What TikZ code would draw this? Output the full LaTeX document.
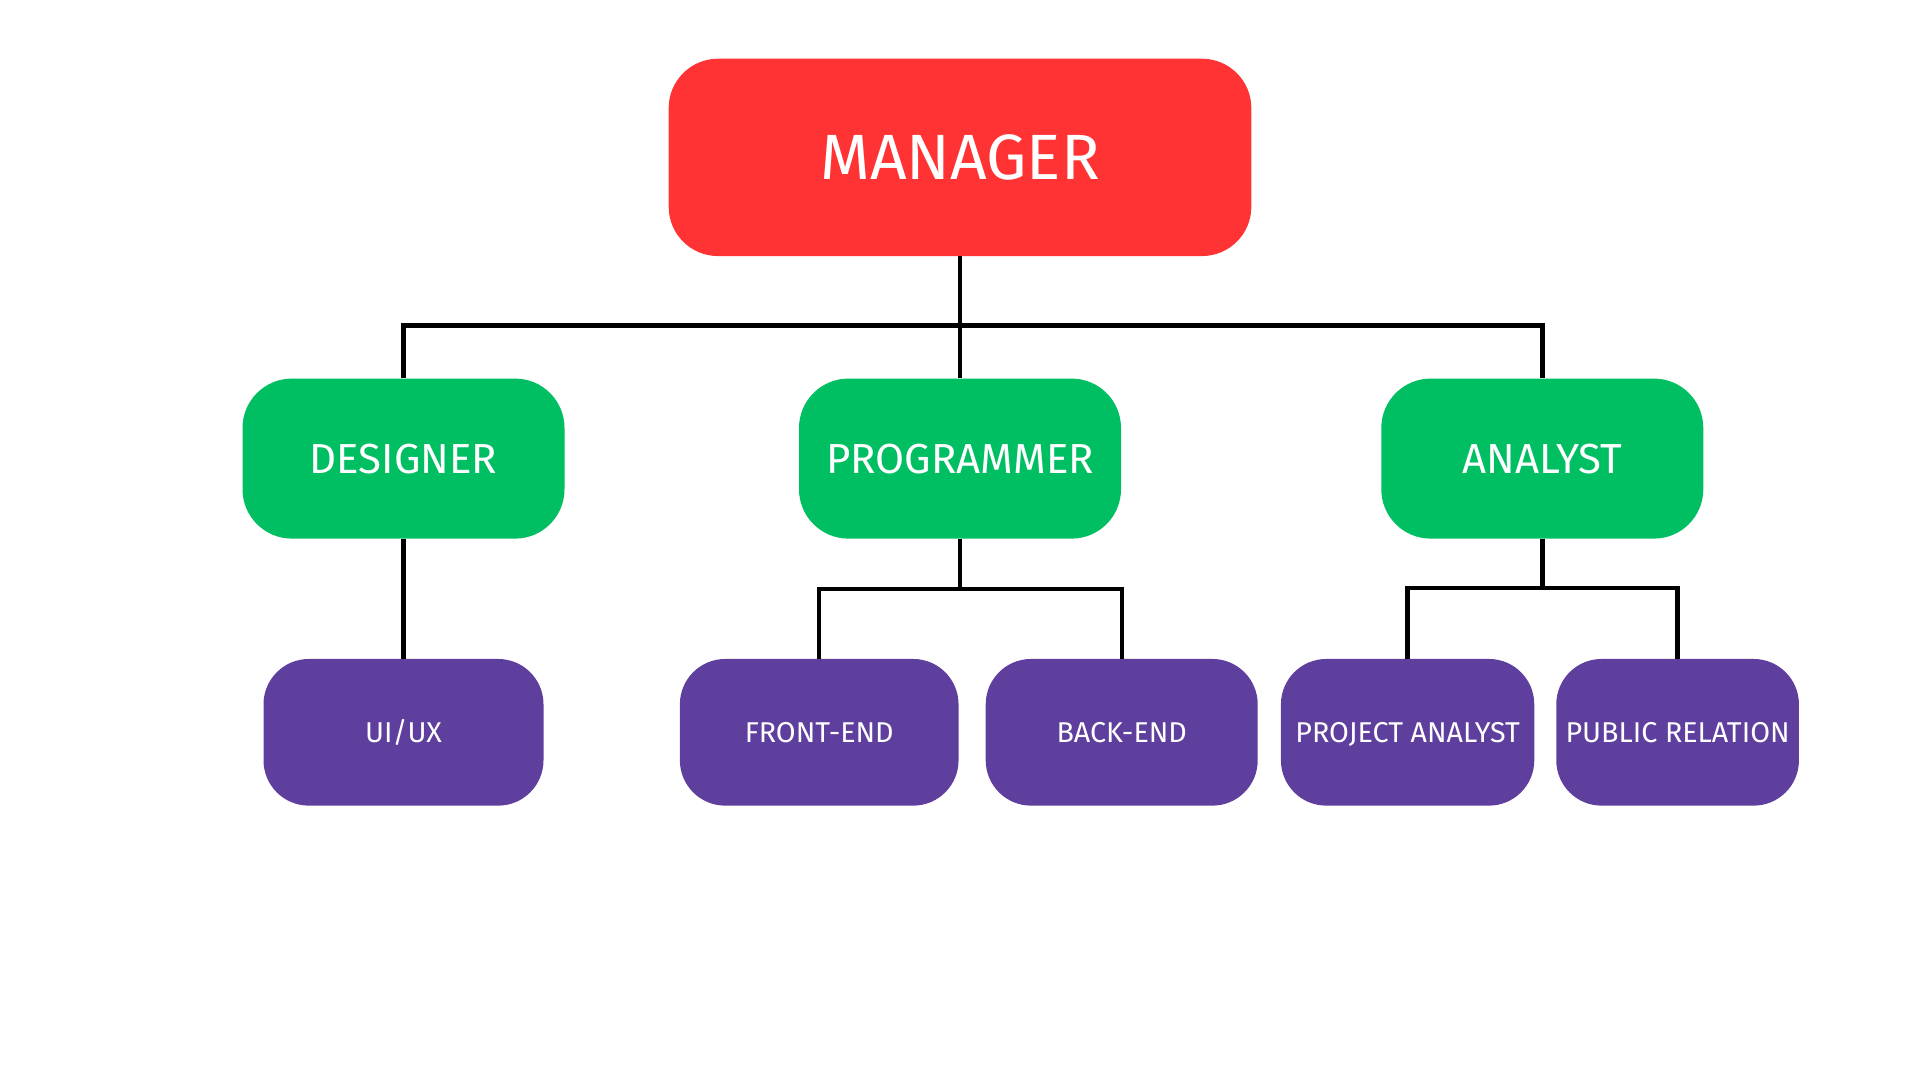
\documentclass[tikz,border=0pt]{standalone}
\usepackage{fontspec}
\setmainfont{Fira Sans}
\definecolor{mgr}{HTML}{FF3333}
\definecolor{grn}{HTML}{00BF63}
\definecolor{prp}{HTML}{5F3F9E}
\begin{document}
\begin{tikzpicture}[x=0.75pt,y=-0.75pt,
  box/.style={rectangle,rounded corners=37pt,inner sep=0pt,text=white,anchor=center},
  top/.style={box,fill=mgr,minimum width=437pt,minimum height=148pt,font=\fontsize{48}{58}\selectfont},
  mid/.style={box,fill=grn,minimum width=241.5pt,minimum height=120pt,font=\fontsize{31.5}{38}\selectfont},
  leaf/.style={box,fill=prp,minimum height=110pt,rounded corners=34pt,text height=15pt,text depth=0pt,font=\fontsize{21.5}{26}\selectfont},
  wire/.style={line width=3.3pt,black}]
\useasboundingbox (0,0) rectangle (1920,1080);
\node[top] (m) at (960,157.4) {MANAGER};
\node[mid] (d) at (403.5,458.6) {DESIGNER};
\node[mid] (p) at (960,458.6) {PROGRAMMER};
\node[mid] (a) at (1542.3,458.6) {ANALYST};
\node[leaf,minimum width=210pt] (u) at (403.5,732.3) {UI/UX};
\node[leaf,minimum width=209pt] (f) at (819.2,732.3) {FRONT-END};
\node[leaf,minimum width=204pt] (b) at (1121.7,732.3) {BACK-END};
\node[leaf,minimum width=190pt] (pa) at (1407.6,732.3) {PROJECT ANALYST};
\node[leaf,minimum width=182pt] (pr) at (1677.6,732.3) {PUBLIC RELATION};
\coordinate (bus) at (960,325.7);
\coordinate (pbus) at (960,589);
\coordinate (abus) at (1542.3,588);
\draw[wire] (m.south) -- (p.north);
\draw[wire] (d.north) |- (bus) -| (a.north);
\draw[wire] (d.south) -- (u.north);
\draw[wire] (p.south) -- (pbus);
\draw[wire] (f.north) |- (pbus) -| (b.north);
\draw[wire] (a.south) -- (abus);
\draw[wire] (pa.north) |- (abus) -| (pr.north);
\end{tikzpicture}
\end{document}
